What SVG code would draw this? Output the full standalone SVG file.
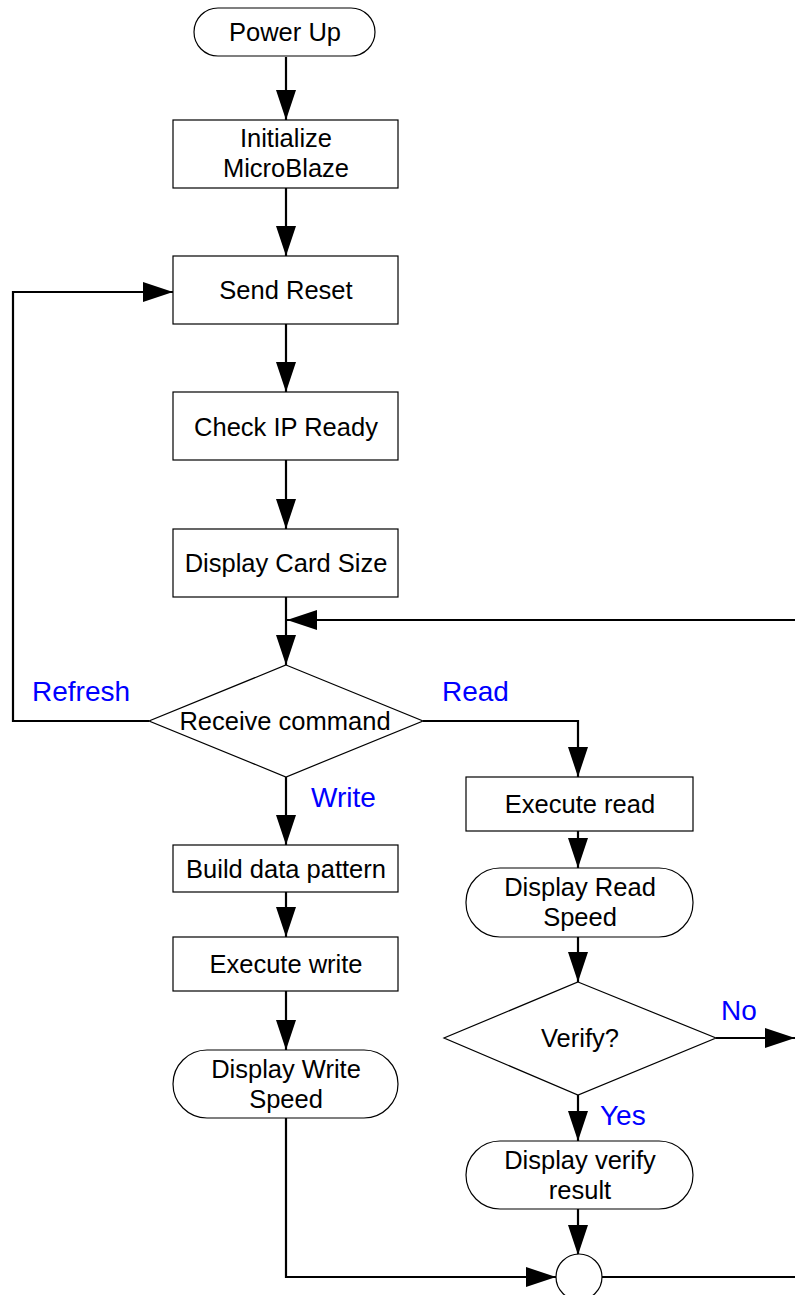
<svg xmlns="http://www.w3.org/2000/svg" width="795" height="1295" viewBox="0 0 795 1295">
<style>
.n{fill:#fff;stroke:#000;stroke-width:1.2}
.t{font-family:"Liberation Sans",Arial,sans-serif;font-size:25.5px;fill:#000;text-anchor:middle}
.l{font-family:"Liberation Sans",Arial,sans-serif;font-size:28px;fill:#0000ff}
.c{fill:none;stroke:#000;stroke-width:2.2}
</style>
<defs>
<marker id="a" markerUnits="userSpaceOnUse" markerWidth="30" markerHeight="20" refX="30" refY="10" orient="auto">
<path d="M0,0 L30,10 L0,20 z" fill="#000"/>
</marker>
</defs>
<rect width="795" height="1295" fill="#fff"/>
<g id="connectors">
<path class="c" d="M286,57 V120" marker-end="url(#a)"/>
<path class="c" d="M286,188 V256" marker-end="url(#a)"/>
<path class="c" d="M286,324 V392" marker-end="url(#a)"/>
<path class="c" d="M286,460 V529" marker-end="url(#a)"/>
<path class="c" d="M286,597 V665" marker-end="url(#a)"/>
<path class="c" d="M795,620 H287" marker-end="url(#a)"/>
<path class="c" d="M149,721 H13 V292 H173" marker-end="url(#a)"/>
<path class="c" d="M423,721 H578 V777" marker-end="url(#a)"/>
<path class="c" d="M286,777 V845" marker-end="url(#a)"/>
<path class="c" d="M286,892 V937" marker-end="url(#a)"/>
<path class="c" d="M286,991 V1050" marker-end="url(#a)"/>
<path class="c" d="M286,1118 V1277 H556" marker-end="url(#a)"/>
<path class="c" d="M578,831 V868" marker-end="url(#a)"/>
<path class="c" d="M578,937 V982" marker-end="url(#a)"/>
<path class="c" d="M716,1038 H795" marker-end="url(#a)"/>
<path class="c" d="M578,1095 V1141" marker-end="url(#a)"/>
<path class="c" d="M578,1209 V1255" marker-end="url(#a)"/>
<path class="c" d="M602,1277 H795"/>
<text class="l" x="32" y="701">Refresh</text>
<text class="l" x="442" y="701">Read</text>
<text class="l" x="311" y="807">Write</text>
<text class="l" x="721" y="1020">No</text>
<text class="l" x="600" y="1125">Yes</text>
</g>
<g id="power-up">
<rect class="n" x="194" y="8" width="181" height="48" rx="24"/>
<text class="t" x="285" y="41">Power Up</text>
</g>
<g id="init">
<rect class="n" x="173" y="120" width="225" height="68"/>
<text class="t" x="286" y="147">Initialize</text>
<text class="t" x="286" y="177">MicroBlaze</text>
</g>
<g id="send-reset">
<rect class="n" x="173" y="256" width="225" height="68"/>
<text class="t" x="286" y="299">Send Reset</text>
</g>
<g id="check-ip">
<rect class="n" x="173" y="392" width="225" height="68"/>
<text class="t" x="286" y="436">Check IP Ready</text>
</g>
<g id="card-size">
<rect class="n" x="173" y="529" width="225" height="68"/>
<text class="t" x="286" y="572">Display Card Size</text>
</g>
<g id="receive">
<path class="n" d="M286,665 L423,721 L286,777 L149,721 Z"/>
<text class="t" x="285" y="730">Receive command</text>
</g>
<g id="build">
<rect class="n" x="173" y="845" width="225" height="47"/>
<text class="t" x="286" y="878">Build data pattern</text>
</g>
<g id="exec-write">
<rect class="n" x="173" y="937" width="225" height="54"/>
<text class="t" x="286" y="973">Execute write</text>
</g>
<g id="write-speed">
<rect class="n" x="173" y="1050" width="225" height="68" rx="34"/>
<text class="t" x="286" y="1078">Display Write</text>
<text class="t" x="286" y="1108">Speed</text>
</g>
<g id="exec-read">
<rect class="n" x="466" y="777" width="227" height="54"/>
<text class="t" x="580" y="813">Execute read</text>
</g>
<g id="read-speed">
<rect class="n" x="466" y="868" width="227" height="69" rx="34"/>
<text class="t" x="580" y="896">Display Read</text>
<text class="t" x="580" y="926">Speed</text>
</g>
<g id="verify">
<path class="n" d="M578,982 L716,1038 L578,1095 L444,1038 Z"/>
<text class="t" x="580" y="1047">Verify?</text>
</g>
<g id="verify-result">
<rect class="n" x="466" y="1141" width="227" height="68" rx="34"/>
<text class="t" x="580" y="1169">Display verify</text>
<text class="t" x="580" y="1199">result</text>
</g>
<g id="join">
<circle class="n" cx="579" cy="1277" r="23"/>
</g>
</svg>
